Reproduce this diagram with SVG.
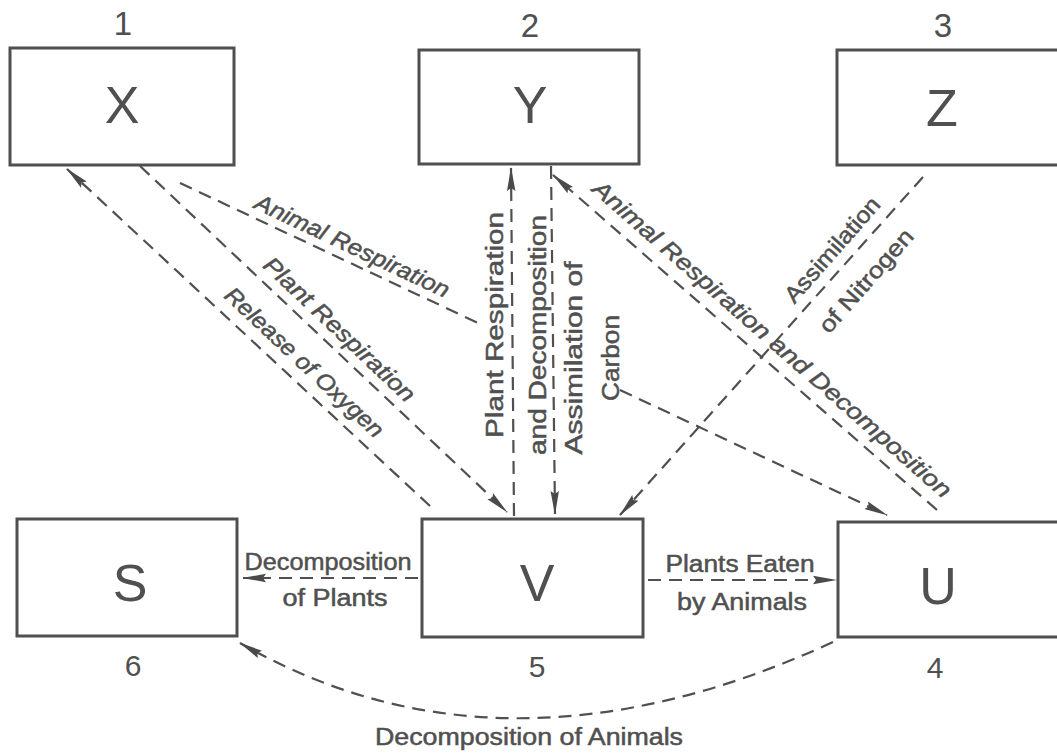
<svg xmlns="http://www.w3.org/2000/svg" width="1057" height="754" viewBox="0 0 1057 754">
  <style>
    .box { fill: none; stroke: #4f4f4f; stroke-width: 3; }
    .node-letter { font-family: "Liberation Sans", Arial, sans-serif; font-size: 52px; fill: #505050; text-anchor: middle; }
    .num { font-family: "Liberation Sans", Arial, sans-serif; font-size: 33px; fill: #505050; text-anchor: middle; }
    .num-low { font-size: 30px; }
    .flow { fill: none; stroke: #505050; stroke-width: 2.2; stroke-dasharray: 13 8; marker-end: url(#arrow); }
    .lbl { font-family: "Liberation Sans", Arial, sans-serif; font-size: 23px; fill: #505050; stroke: #505050; stroke-width: 0.5; text-anchor: middle; }
    .slant { font-style: italic; }
  </style>
  <defs>
    <marker id="arrow" viewBox="0 0 24 10" refX="23" refY="5" markerWidth="24" markerHeight="10" markerUnits="userSpaceOnUse" orient="auto">
      <path d="M0,0.8 L24,5 L0,9.2 L3,5 z" fill="#4a4a4a"/>
    </marker>
  </defs>
  <rect width="1057" height="754" fill="#ffffff"/>

  <!-- compartments -->
  <g id="node-x">
    <rect class="box" x="10" y="48" width="224" height="117"/>
    <text class="node-letter" x="122" y="123">X</text>
    <text class="num" x="123" y="35">1</text>
  </g>
  <g id="node-y">
    <rect class="box" x="419" y="50" width="220" height="114"/>
    <text class="node-letter" x="530" y="123">Y</text>
    <text class="num" x="530" y="37">2</text>
  </g>
  <g id="node-z">
    <rect class="box" x="837" y="50" width="226" height="115"/>
    <text class="node-letter" x="942" y="126">Z</text>
    <text class="num" x="943" y="37">3</text>
  </g>
  <g id="node-s">
    <rect class="box" x="17" y="519" width="220" height="117"/>
    <text class="node-letter" x="130" y="601">S</text>
    <text class="num num-low" x="133" y="676">6</text>
  </g>
  <g id="node-v">
    <rect class="box" x="422" y="519" width="221" height="118"/>
    <text class="node-letter" x="537" y="601">V</text>
    <text class="num num-low" x="537" y="677">5</text>
  </g>
  <g id="node-u">
    <rect class="box" x="838" y="522" width="226" height="115"/>
    <text class="node-letter" x="938" y="604">U</text>
    <text class="num num-low" x="935" y="678">4</text>
  </g>

  <!-- flows between compartments -->
  <g id="connectors">
    <path class="flow" d="M430,506 L67,169"/>
    <path class="flow" d="M140,166 L507,512"/>
    <path class="flow" d="M180,183 L478,323 M620,390 L887,515"/>
    <path class="flow" d="M514,516 L511,168"/>
    <path class="flow" d="M551,166 L555,514"/>
    <path class="flow" d="M937,510 L553,175"/>
    <path class="flow" d="M923,177 L620,515"/>
    <path class="flow" d="M418,578 L243,578"/>
    <path class="flow" d="M648,580 L836,580"/>
    <path class="flow" d="M833,642 Q503,794 240,643"/>
  </g>

  <!-- flow labels -->
  <g id="labels">
    <text class="lbl slant" transform="translate(349,253) rotate(25.2)" textLength="212" lengthAdjust="spacingAndGlyphs">Animal Respiration</text>
    <text class="lbl slant" transform="translate(334,335) rotate(43.4)" textLength="199" lengthAdjust="spacingAndGlyphs">Plant Respiration</text>
    <text class="lbl slant" transform="translate(299,368) rotate(43)" textLength="208" lengthAdjust="spacingAndGlyphs">Release of Oxygen</text>
    <text class="lbl slant" transform="translate(767,345) rotate(41.2)" textLength="468" lengthAdjust="spacingAndGlyphs">Animal Respiration and Decomposition</text>
    <text class="lbl" transform="translate(838,255) rotate(-48.7)" textLength="132" lengthAdjust="spacingAndGlyphs">Assimilation</text>
    <text class="lbl" transform="translate(872,286) rotate(-48.7)" textLength="130" lengthAdjust="spacingAndGlyphs">of Nitrogen</text>
    <text class="lbl" transform="translate(503,325) rotate(-90)" textLength="226" lengthAdjust="spacingAndGlyphs">Plant Respiration</text>
    <text class="lbl" transform="translate(546,335) rotate(-90)" textLength="240" lengthAdjust="spacingAndGlyphs">and Decomposition</text>
    <text class="lbl" transform="translate(582,358) rotate(-90)" textLength="193" lengthAdjust="spacingAndGlyphs">Assimilation of</text>
    <text class="lbl" transform="translate(619,358) rotate(-90)" textLength="86" lengthAdjust="spacingAndGlyphs">Carbon</text>
    <text class="lbl" x="328" y="570" textLength="167" lengthAdjust="spacingAndGlyphs">Decomposition</text>
    <text class="lbl" x="335" y="606" textLength="105" lengthAdjust="spacingAndGlyphs">of Plants</text>
    <text class="lbl" x="740" y="572" textLength="149" lengthAdjust="spacingAndGlyphs">Plants Eaten</text>
    <text class="lbl" x="742" y="610" textLength="130" lengthAdjust="spacingAndGlyphs">by Animals</text>
    <text class="lbl" x="529" y="745" textLength="308" lengthAdjust="spacingAndGlyphs">Decomposition of Animals</text>
  </g>
</svg>
